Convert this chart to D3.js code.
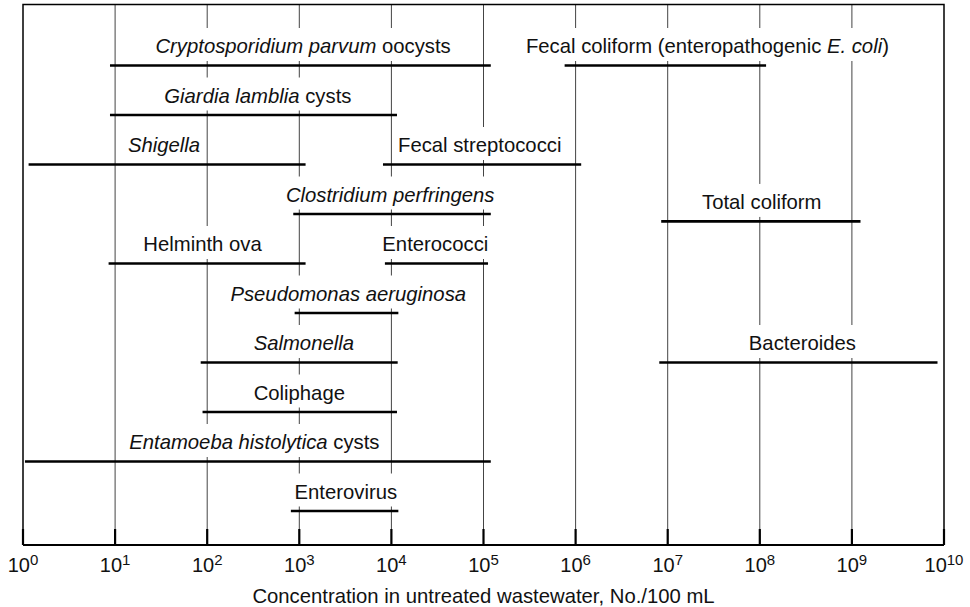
<!DOCTYPE html>
<html>
<head>
<meta charset="utf-8">
<script src="https://cdn.jsdelivr.net/npm/d3@7"></script>
<style>
  body { margin: 0; background: #fff; }
  text { font-family: "Liberation Sans", Arial, Helvetica, sans-serif; fill: #111; }
</style>
</head>
<body>
<svg width="970" height="607"></svg>
<script>
// organisms, *...* marks the italic part of a name
var organisms = [
    "*Cryptosporidium parvum* oocysts",
    "Fecal coliform (enteropathogenic *E. coli*)",
    "*Giardia lamblia* cysts",
    "*Shigella*",
    "Fecal streptococci",
    "*Clostridium perfringens*",
    "Total coliform",
    "Helminth ova",
    "Enterococci",
    "*Pseudomonas aeruginosa*",
    "*Salmonella*",
    "Bacteroides",
    "Coliphage",
    "*Entamoeba histolytica* cysts",
    "Enterovirus"
];
// range of concentration, No./100 mL
var lowValues  = [8.8, 7.6e5, 8.8, 1.15, 8.1e3, 860, 8.5e6, 8.5, 8.5e3, 890, 85, 8.1e6, 89, 1.05, 810];
var highValues = [1.2e5, 1.17e8, 1.15e4, 1.17e3, 1.15e6, 1.2e5, 1.24e9, 1.17e3, 1.12e5, 1.19e4, 1.17e4, 8.5e9, 1.15e4, 1.2e5, 1.19e4];
// where the name sits along the axis
var labelAt    = [1.1e3, 2.7e7, 355, 34, 9.1e4, 9.7e3, 1.05e8, 89, 3.0e4, 3.4e3, 1.12e3, 2.9e8, 1.0e3, 325, 3.2e3];
// row of each range, top to bottom
var rows       = [0, 0, 1, 2, 2, 3, 3.15, 4, 4, 5, 6, 6, 7, 8, 9];
var tickExponents = [0, 1, 2, 3, 4, 5, 6, 7, 8, 9, 10];
var axisTitle = "Concentration in untreated wastewater, No./100 mL";

var svg = d3.select("svg"),
    left = 23, right = 944, frameTop = 4.5, axisY = 545;

var x = d3.scaleLog().domain([1, 1e10]).range([left, right]);
var y = d3.scaleLinear().domain([0, 9]).range([65.5, 511]);

var data = organisms.map(function (name, i) {
    return { name: name, lo: lowValues[i], hi: highValues[i], at: labelAt[i], row: rows[i] };
});

// vertical grid lines
svg.append("g")
    .selectAll("line")
    .data(tickExponents.slice(1, -1))
    .enter().append("line")
    .attr("x1", function (d) { return x(Math.pow(10, d)); })
    .attr("x2", function (d) { return x(Math.pow(10, d)); })
    .attr("y1", frameTop)
    .attr("y2", axisY)
    .attr("stroke", "#444")
    .attr("stroke-width", 1);

var bg = svg.append("g");

// ranges
svg.append("g")
    .selectAll("line")
    .data(data)
    .enter().append("line")
    .attr("x1", function (d) { return x(d.lo); })
    .attr("x2", function (d) { return x(d.hi); })
    .attr("y1", function (d) { return y(d.row); })
    .attr("y2", function (d) { return y(d.row); })
    .attr("stroke", "#000")
    .attr("stroke-width", 2.7);

// names
var labels = svg.append("g")
    .selectAll("text")
    .data(data)
    .enter().append("text")
    .attr("x", function (d) { return x(d.at); })
    .attr("y", function (d) { return y(d.row) - 12.5; })
    .attr("text-anchor", "middle")
    .style("font-size", "20.3px");

labels.each(function (d) {
    var t = d3.select(this);
    d.name.split("*").forEach(function (part, j) {
        if (!part) return;
        t.append("tspan")
            .style("font-style", j % 2 ? "italic" : "normal")
            .text(part);
    });
});

// white patches behind the names break the grid lines
labels.each(function () {
    var b = this.getBBox();
    bg.append("rect")
        .attr("x", b.x - 4)
        .attr("y", b.y - 7)
        .attr("width", b.width + 8)
        .attr("height", b.height + 11)
        .attr("fill", "#fff");
});

// frame
svg.append("path")
    .attr("d", "M" + left + "," + axisY + "V" + frameTop + "H" + right + "V" + axisY)
    .attr("fill", "none")
    .attr("stroke", "#000")
    .attr("stroke-width", 1.5);

// axis
svg.append("line")
    .attr("x1", left).attr("x2", right)
    .attr("y1", axisY).attr("y2", axisY)
    .attr("stroke", "#000")
    .attr("stroke-width", 2.2);

var tick = svg.append("g")
    .selectAll("g")
    .data(tickExponents)
    .enter().append("g")
    .attr("transform", function (d) { return "translate(" + x(Math.pow(10, d)) + ",0)"; });

tick.append("line")
    .attr("y1", axisY - 16)
    .attr("y2", axisY)
    .attr("stroke", "#000")
    .attr("stroke-width", 2.2);

var tickText = tick.append("text")
    .attr("y", 572)
    .attr("text-anchor", "middle")
    .style("font-size", "20px");
tickText.append("tspan").text("10");
tickText.append("tspan")
    .attr("dy", -7)
    .style("font-size", "15px")
    .text(function (d) { return d; });

svg.append("text")
    .attr("x", 483.5)
    .attr("y", 603)
    .attr("text-anchor", "middle")
    .style("font-size", "20.3px")
    .text(axisTitle);
</script>
</body>
</html>
